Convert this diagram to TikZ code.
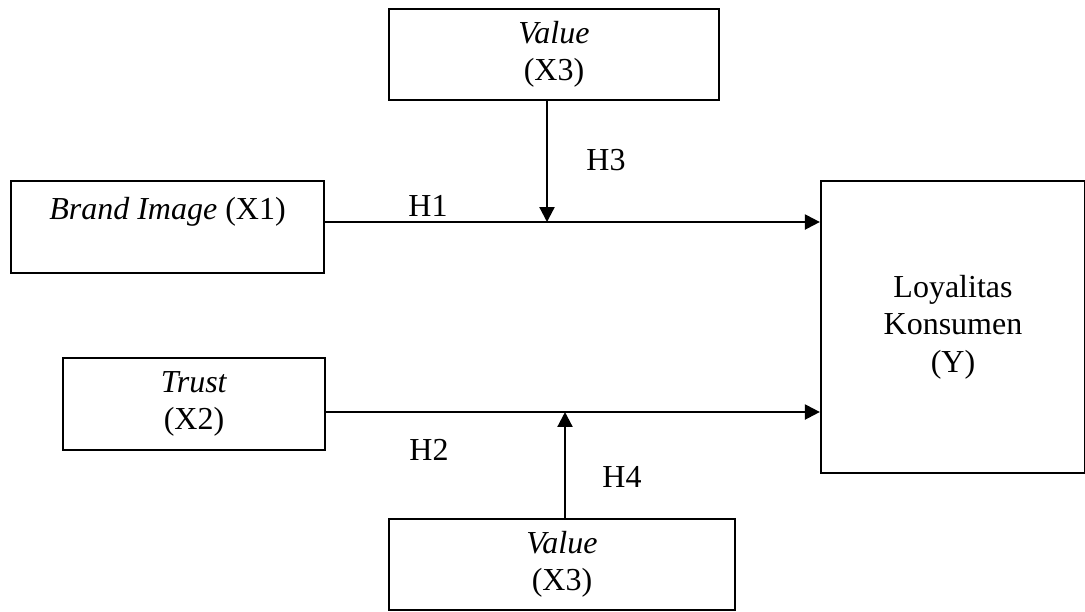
\documentclass[tikz,border=0pt]{standalone}
\usepackage{fontspec}
\setmainfont{Liberation Serif}
\usetikzlibrary{positioning, arrows.meta, calc}

\begin{document}
\begin{tikzpicture}[
  x=0.375pt, y=-0.375pt,
  font=\fontsize{12}{14}\selectfont,
  var/.style={
    draw, line width=0.85pt, align=center, inner sep=0pt,
    minimum height=34.3pt
  },
  arr/.style={-{Triangle[length=5.6pt,width=5.6pt]}, line width=0.85pt},
  hyp/.style={inner sep=0pt}
]
\useasboundingbox (0,0) rectangle (1085,611);
\node[var, minimum width=123.75pt] (x3a) at (554,54.5) {\textit{Value}\\(X3)};
\node[var, minimum width=117.4pt] (x1) at (167.5,227) {\textit{Brand Image} (X1)\\~};
\node[var, minimum width=98.25pt] (x2) at (194,404) {\textit{Trust}\\(X2)};
\node[var, minimum width=129.75pt] (x3b) at (562,564.5) {\textit{Value}\\(X3)};
\node[var, minimum width=99pt, minimum height=109.5pt] (y) at (953,327) {Loyalitas\\Konsumen\\(Y)};

\coordinate (j1) at (547,222);
\coordinate (j2) at (565,412);

\draw[arr] (x1.east |- j1) -- (y.west |- j1);
\draw[arr] (x2.east |- j2) -- (y.west |- j2);
\draw[arr] (x3a.south -| j1) -- (j1);
\draw[arr] (x3b.north -| j2) -- (j2);

\node[hyp] (h1) at (428,206) {H1};
\node[hyp] (h3) at (606,160) {H3};
\node[hyp] (h2) at (429,450) {H2};
\node[hyp] (h4) at (622,477) {H4};
\end{tikzpicture}
\end{document}
